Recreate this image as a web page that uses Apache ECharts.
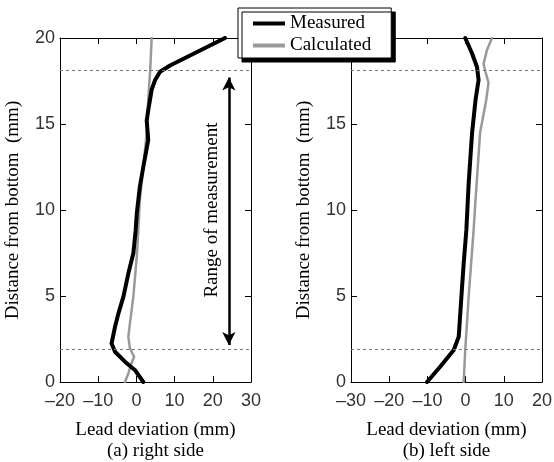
<!DOCTYPE html>
<html><head><meta charset="utf-8">
<script src="https://cdn.jsdelivr.net/npm/echarts@6/dist/echarts.min.js"></script>
<style>html,body{margin:0;padding:0;background:#fff}#c{width:554px;height:462px}</style>
</head><body><div id="c"></div>
<script>
// ---- data ----
const seriesNames = ['Measured', 'Calculated'];
// (a) right side: [lead deviation mm, distance from bottom mm]
const rightMeasured = [[1.8,0],[-0.4,0.7],[-3.0,1.18],[-5.6,1.76],[-6.5,2.24],[-5.6,3.21],[-4.7,3.99],[-3.4,4.96],[-2.1,6.32],[-0.8,7.48],[-0.2,8.8],[0.1,9.8],[0.9,11.35],[1.8,12.5],[3.1,14.07],[2.7,15.2],[3.1,15.8],[4.0,17.0],[4.9,17.56],[6.2,18.04],[8.8,18.4],[23.2,20]];
const rightCalculated = [[-3.0,0],[-2.1,0.5],[-1.3,1.09],[-0.6,1.47],[-1.7,1.96],[-2.1,2.63],[-1.7,3.41],[-0.8,4.96],[0.1,7.3],[0.5,8.84],[0.9,10.6],[1.8,12.5],[2.7,14.5],[3.1,16.4],[3.6,18.1],[4.0,20]];
// (b) left side
const leftMeasured = [[-10.1,0],[-6.6,0.9],[-3.1,1.86],[-1.8,2.63],[-1.1,4.96],[-0.5,6.9],[0.2,8.84],[0.8,11.55],[1.7,14.5],[2.6,16.4],[3.4,17.56],[3.0,18.3],[1.7,19.1],[-0.1,20]];
const leftCalculated = [[-0.5,0],[-0.1,1.86],[0.8,4.96],[2.1,8.84],[2.6,10.6],[3.8,14.5],[5.4,16.4],[6.0,17.4],[5.2,18.04],[4.7,18.5],[5.6,19.3],[6.9,20]];
// range of measurement limits (distance from bottom, mm)
const rangeLimits = [1.9, 18.1];
// arrow in (a): x position and y ends
const arrowX = 24.2;
const arrowEnds = [2.15, 17.7];
const xRangeA = [-20, 30];
const xRangeB = [-30, 20];
const yRange = [0, 20];
const xTitle = 'Lead deviation (mm)';
const subTitles = ['(a) right side', '(b) left side'];
const yTitle = 'Distance from bottom  (mm)';
const arrowText = 'Range of measurement';

const serif = 'Liberation Serif';
const sans = 'Liberation Sans';
const fmt = v => String(v).replace('-', '\u2013');

function xAxes(gi, range, sub) {
  return [{
    gridIndex: gi, type: 'value', min: range[0], max: range[1], interval: 10,
    position: 'bottom',
    axisLine: {show: true, onZero: false, lineStyle: {color: '#000', width: 1}},
    axisTick: {show: true, inside: true, length: 6, lineStyle: {color: '#000'}},
    axisLabel: {formatter: fmt, color: '#333', fontFamily: sans, fontSize: 18, margin: 10,
      showMinLabel: true, showMaxLabel: true, hideOverlap: false},
    splitLine: {show: false},
    name: xTitle + '\n' + sub, nameLocation: 'middle', nameGap: 38,
    nameTextStyle: {fontFamily: serif, fontSize: 19, color: '#000', lineHeight: 21}
  }, {
    gridIndex: gi, type: 'value', min: range[0], max: range[1], interval: 10,
    position: 'top',
    axisLine: {show: true, onZero: false, lineStyle: {color: '#000', width: 1}},
    axisTick: {show: true, inside: true, length: 6, lineStyle: {color: '#000'}},
    axisLabel: {show: false}, splitLine: {show: false}
  }];
}
function yAxes(gi) {
  return [{
    gridIndex: gi, type: 'value', min: yRange[0], max: yRange[1], interval: 5,
    position: 'left',
    axisLine: {show: true, onZero: false, lineStyle: {color: '#000', width: 1}},
    axisTick: {show: true, inside: true, length: 6, lineStyle: {color: '#000'}},
    axisLabel: {formatter: fmt, color: '#333', fontFamily: sans, fontSize: 18, margin: 5,
      showMinLabel: true, showMaxLabel: true, hideOverlap: false},
    splitLine: {show: false},
    name: yTitle, nameLocation: 'middle', nameGap: 37,
    nameTextStyle: {fontFamily: serif, fontSize: 19, color: '#000'}
  }, {
    gridIndex: gi, type: 'value', min: yRange[0], max: yRange[1], interval: 5,
    position: 'right',
    axisLine: {show: true, onZero: false, lineStyle: {color: '#000', width: 1}},
    axisTick: {show: true, inside: true, length: 6, lineStyle: {color: '#000'}},
    axisLabel: {show: false}, splitLine: {show: false}
  }];
}
const dashLines = {
  silent: true, symbol: ['none', 'none'], label: {show: false},
  lineStyle: {type: [3, 3], color: '#777', width: 1},
  data: rangeLimits.map(v => ({yAxis: v}))
};
function lineSeries(name, data, xi, yi, extra) {
  const black = name === seriesNames[0];
  return Object.assign({
    name, type: 'line', data, xAxisIndex: xi, yAxisIndex: yi,
    symbol: 'none', smooth: false, animation: false,
    lineStyle: {color: black ? '#000' : '#999', width: black ? 4 : 2.5, cap: 'round', join: 'round'},
    itemStyle: {color: black ? '#000' : '#999'},
    z: black ? 3 : 2
  }, extra || {});
}

const chart = echarts.init(document.getElementById('c'));
chart.setOption({
  animation: false,
  grid: [
    {left: 60, top: 38, width: 191, height: 344, containLabel: false, outerBoundsMode: 'none'},
    {left: 351, top: 38, width: 191, height: 344, containLabel: false, outerBoundsMode: 'none'}
  ],
  xAxis: [...xAxes(0, xRangeA, subTitles[0]), ...xAxes(1, xRangeB, subTitles[1])],
  yAxis: [...yAxes(0), ...yAxes(1)],
  legend: {
    data: seriesNames, orient: 'vertical', left: 238, top: 8,
    icon: 'rect', itemWidth: 32, itemHeight: 4, itemGap: 3,
    padding: [6, 20, 3, 15],
    backgroundColor: '#fff', borderColor: '#000', borderWidth: 1,
    shadowColor: '#000', shadowBlur: 0, shadowOffsetX: 4, shadowOffsetY: 4,
    textStyle: {fontFamily: serif, fontSize: 19, color: '#000'},
    z: 10
  },
  series: [
    lineSeries('Calculated', rightCalculated, 0, 0, {markLine: dashLines}),
    lineSeries('Measured', rightMeasured, 0, 0, {
      markLine: {
        silent: true, symbol: ['arrow', 'arrow'], symbolSize: [10, 13], label: {show: false},
        lineStyle: {type: 'solid', color: '#000', width: 2.5},
        data: [[{coord: [arrowX, arrowEnds[0]]}, {coord: [arrowX, arrowEnds[1]]}]]
      }
    }),
    lineSeries('Calculated', leftCalculated, 2, 2, {markLine: dashLines}),
    lineSeries('Measured', leftMeasured, 2, 2)
  ],
  graphic: [{
    type: 'text', x: 212, y: 210, rotation: Math.PI / 2,
    style: {text: arrowText, font: '19px "Liberation Serif"', fill: '#000', align: 'center', verticalAlign: 'middle'}
  }]
});
</script></body></html>
